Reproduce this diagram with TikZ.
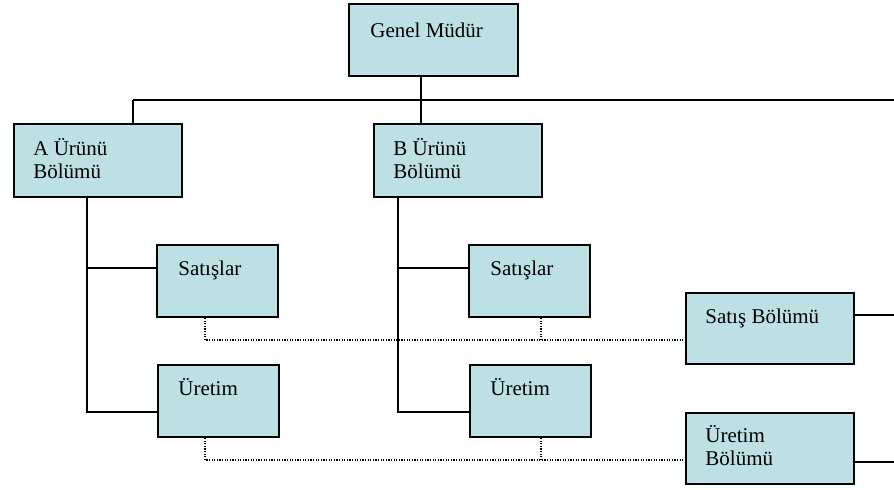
\documentclass[tikz,border=0pt]{standalone}
\usepackage{fontspec}
\setmainfont{Liberation Serif}
\newfontfamily\chartfont{Liberation Serif}
\definecolor{boxfill}{RGB}{188,224,228}
\begin{document}
\begin{tikzpicture}[x=0.5pt,y=-0.5pt,
  unit/.style={draw=black, line width=1pt, fill=boxfill, inner sep=0pt, anchor=north west},
  wide/.style={unit, minimum width=84pt, minimum height=36pt},
  narrow/.style={unit, minimum width=60.5pt, minimum height=36pt},
  lbl/.style={inner sep=0pt, anchor=base west, font=\chartfont\fontsize{10.5pt}{11.5pt}\selectfont},
  tie/.style={line width=1pt},
  liaison/.style={line width=0.7pt, dash pattern=on 0.6pt off 0.7pt}]
\useasboundingbox (0,0) rectangle (894,489);

% boxes
\node[wide, minimum width=84.5pt] (gm) at (348,3) {};
\node[wide, minimum height=36.5pt] (pa) at (13,123) {};
\node[wide, minimum height=36.5pt] (pb) at (373,123) {};
\node[narrow] (sa) at (156,244) {};
\node[narrow] (sb) at (468,244) {};
\node[narrow] (ua) at (157,364) {};
\node[narrow] (ub) at (469,364) {};
\node[wide, minimum height=35.5pt] (sbol) at (685,292) {};
\node[wide, minimum height=35.5pt] (ubol) at (685,412) {};

% labels
\node[lbl] (t-gm) at (370,37) {Genel Müdür};
\node[lbl] (t-pa) at (33,155) {\parbox[t]{70pt}{A Ürünü\\Bölümü}};
\node[lbl] (t-pb) at (393,155) {\parbox[t]{70pt}{B Ürünü\\Bölümü}};
\node[lbl] (t-sa) at (178,275) {Satışlar};
\node[lbl] (t-sb) at (490,275) {Satışlar};
\node[lbl] (t-ua) at (178,395) {Üretim};
\node[lbl] (t-ub) at (490,395) {Üretim};
\node[lbl] (t-sbol) at (705,323) {Satış Bölümü};
\node[lbl] (t-ubol) at (705,442) {\parbox[t]{70pt}{Üretim\\Bölümü}};

% junction points
\coordinate (busL) at (133,100);
\coordinate (busM) at (421,100);
\coordinate (busR) at (894,100);
\coordinate (brA) at (87,268);
\coordinate (stemA) at (87,412);
\coordinate (brB) at (398,268);
\coordinate (stemB) at (398,412);
\coordinate (edgeS) at (894,315);
\coordinate (edgeU) at (894,462);
\coordinate (dotSA) at (205,340);
\coordinate (dotSB) at (541,340);
\coordinate (dotUA) at (205,460);
\coordinate (dotUB) at (541,460);

% solid reporting lines
\draw[tie] (gm.south -| busM) -- (busM);
\draw[tie] (busL) -- (busR);
\draw[tie] (busL) -- (busL |- pa.north);
\draw[tie] (busM) -- (busM |- pb.north);
\draw[tie] (pa.south -| stemA) -- (stemA) -- (stemA -| ua.west);
\draw[tie] (brA) -- (brA -| sa.west);
\draw[tie] (pb.south -| stemB) -- (stemB) -- (stemB -| ub.west);
\draw[tie] (brB) -- (brB -| sb.west);
\draw[tie] (sbol.east |- edgeS) -- (edgeS);
\draw[tie] (ubol.east |- edgeU) -- (edgeU);

% dotted functional links
\draw[liaison] (sa.south -| dotSA) -- (dotSA) -- (dotSA -| sbol.west);
\draw[liaison] (sb.south -| dotSB) -- (dotSB);
\draw[liaison] (ua.south -| dotUA) -- (dotUA) -- (dotUA -| ubol.west);
\draw[liaison] (ub.south -| dotUB) -- (dotUB);
\end{tikzpicture}
\end{document}
